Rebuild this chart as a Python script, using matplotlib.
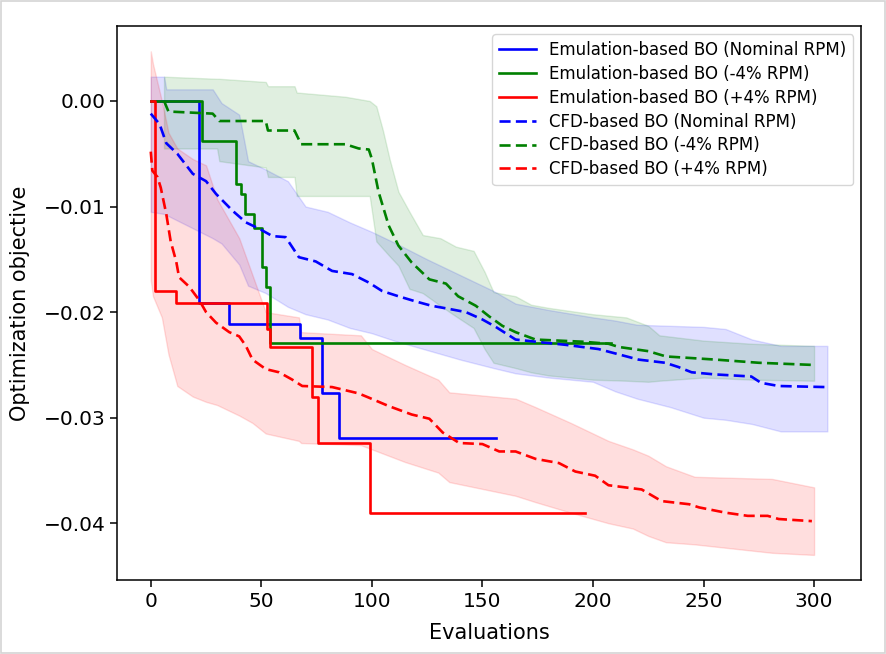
import numpy as np
import matplotlib
matplotlib.use("Agg")
import matplotlib.pyplot as plt

# emulation-based BO (best objective so far, step curves)
emu_nom_x = [0, 22, 35.5, 67.7, 77.5, 85, 156]
emu_nom_y = [0.0, -0.0191, -0.0211, -0.0225, -0.0277, -0.0319, -0.0319]

emu_m4_x = [0, 23.3, 38.4, 40.6, 42.8, 46.8, 50.4, 52, 54, 208]
emu_m4_y = [0.0, -0.0038, -0.0079, -0.0088, -0.0107, -0.0120, -0.0157, -0.0176, -0.0229, -0.0229]

emu_p4_x = [0, 2, 11.5, 52.6, 54, 73, 75.6, 99.3, 196.4]
emu_p4_y = [0.0, -0.0180, -0.0191, -0.0216, -0.0233, -0.0280, -0.0324, -0.0390, -0.0390]

# CFD-based BO mean curves
cfd_nom_x = [0, 4, 7, 12, 19, 25, 29.5, 37, 43, 49, 55, 61, 67, 74.6, 82, 91, 98.6, 104.6,
             112, 120, 127, 135, 142.5, 150, 156, 165, 174, 187.6, 202.5, 211.6, 220.6,
             232.7, 238.6, 244.6, 255, 271.6, 276, 284, 305]
cfd_nom_y = [-0.0012, -0.0022, -0.0040, -0.0050, -0.0069, -0.0076, -0.0088, -0.0104, -0.0115,
             -0.0121, -0.0128, -0.0129, -0.0148, -0.0152, -0.0161, -0.0164, -0.0172, -0.0180,
             -0.0185, -0.0190, -0.0194, -0.0197, -0.0200, -0.0207, -0.0214, -0.0226, -0.0228,
             -0.0231, -0.0235, -0.0240, -0.0245, -0.0248, -0.0252, -0.0257, -0.0259, -0.0261,
             -0.0267, -0.0270, -0.0271]

cfd_m4_x = [6, 8, 28, 31, 52, 53, 65, 68, 88, 94, 98.6, 100, 103, 107.6, 112, 118, 126, 133.5,
            139, 147, 153, 159, 165, 174, 195, 207, 211.6, 225, 233, 255.5, 275, 299]
cfd_m4_y = [0.0, -0.0010, -0.0012, -0.0019, -0.0019, -0.0028, -0.0028, -0.0041, -0.0041, -0.0045,
            -0.0046, -0.0055, -0.0086, -0.0118, -0.0137, -0.0153, -0.0169, -0.0173, -0.0185,
            -0.0194, -0.0204, -0.0213, -0.0219, -0.0226, -0.0228, -0.0230, -0.0233, -0.0237,
            -0.0242, -0.0245, -0.0248, -0.0250]

cfd_p4_x = [0, 0.7, 3, 4.5, 7, 9, 11.5, 12.8, 17.4, 22, 25, 29.5, 35.5, 40, 43, 46, 52, 58, 64,
            68.5, 82, 94, 98.6, 107.6, 118, 126, 132, 139.5, 150, 157.6, 165, 174, 184.6, 192,
            201, 207, 222, 231, 243.5, 248, 260, 270, 279, 284, 299]
cfd_p4_y = [-0.0048, -0.0066, -0.0072, -0.0082, -0.0107, -0.0133, -0.0152, -0.0167, -0.0176,
            -0.0189, -0.0200, -0.0210, -0.0219, -0.0223, -0.0232, -0.0245, -0.0254, -0.0257,
            -0.0264, -0.0270, -0.0271, -0.0277, -0.0281, -0.0289, -0.0297, -0.0301, -0.0314,
            -0.0324, -0.0325, -0.0332, -0.0332, -0.0339, -0.0343, -0.0351, -0.0355, -0.0364,
            -0.0368, -0.0379, -0.0382, -0.0385, -0.0390, -0.0393, -0.0393, -0.0396, -0.0398]

# CFD-based BO spread bands
band_nom_x = [0, 6, 7, 28, 32, 40, 44, 52, 62, 70, 80, 90, 100, 110, 125, 140, 155, 165, 180,
              200, 210, 220, 235, 250, 260, 272, 285, 306]
band_nom_hi = [0.0023, 0.0023, 0.0011, 0.0011, -0.0002, -0.0013, -0.0057, -0.0065, -0.0076,
               -0.0100, -0.0105, -0.0115, -0.0124, -0.0134, -0.0150, -0.0165, -0.0180, -0.0192,
               -0.0198, -0.0205, -0.0208, -0.0212, -0.0213, -0.0214, -0.0216, -0.0226, -0.0232,
               -0.0232]
band_nom_lo = [-0.0105, -0.0107, -0.0108, -0.0130, -0.0135, -0.0155, -0.0175, -0.0182, -0.0195,
               -0.0202, -0.0207, -0.0215, -0.0220, -0.0227, -0.0236, -0.0245, -0.0253, -0.0258,
               -0.0262, -0.0266, -0.0275, -0.0282, -0.0290, -0.0300, -0.0302, -0.0306, -0.0313,
               -0.0313]

band_m4_x = [6, 30, 31, 52, 53, 65, 66, 88, 99, 102, 105, 108, 112, 117, 123, 131, 138, 146, 151,
             155, 165, 172, 180, 200, 215, 225, 230, 250, 272, 300]
band_m4_hi = [0.0023, 0.0021, 0.0021, 0.0018, 0.0014, 0.0014, 0.0008, 0.0004, 0.0, -0.0005,
              -0.0028, -0.0055, -0.0086, -0.0105, -0.0127, -0.0130, -0.0138, -0.0142, -0.0162,
              -0.0181, -0.0185, -0.0193, -0.0196, -0.0202, -0.0205, -0.0213, -0.0222, -0.0227,
              -0.0230, -0.0232]
band_m4_lo = [-0.0045, -0.0045, -0.0057, -0.0063, -0.0072, -0.0072, -0.0090, -0.0090, -0.0090,
              -0.0133, -0.0140, -0.0147, -0.0156, -0.0178, -0.0182, -0.0194, -0.0204, -0.0215,
              -0.0235, -0.0248, -0.0253, -0.0257, -0.0260, -0.0264, -0.0265, -0.0266, -0.0265,
              -0.0262, -0.0264, -0.0265]

band_p4_x = [0, 1, 5, 8, 12, 19, 25, 30, 40, 46, 52, 67, 68, 95, 100, 115, 130, 135, 165, 174,
             190, 207, 218, 225, 233, 246, 281, 300]
band_p4_hi = [0.0047, 0.0035, 0.0, -0.0030, -0.0045, -0.0055, -0.0061, -0.0093, -0.0130, -0.0165,
              -0.0200, -0.0205, -0.0219, -0.0222, -0.0235, -0.0250, -0.0264, -0.0276, -0.0282,
              -0.0290, -0.0305, -0.0322, -0.0330, -0.0336, -0.0346, -0.0356, -0.0358, -0.0366]
band_p4_lo = [-0.0170, -0.0185, -0.0205, -0.0240, -0.0270, -0.0280, -0.0285, -0.0288, -0.0298,
              -0.0305, -0.0315, -0.0322, -0.0324, -0.0326, -0.0330, -0.0342, -0.0352, -0.0361,
              -0.0374, -0.0380, -0.0390, -0.0400, -0.0405, -0.0412, -0.0418, -0.0420, -0.0428,
              -0.0430]

labels = ["Emulation-based BO (Nominal RPM)", "Emulation-based BO (-4% RPM)",
          "Emulation-based BO (+4% RPM)", "CFD-based BO (Nominal RPM)",
          "CFD-based BO (-4% RPM)", "CFD-based BO (+4% RPM)"]

plt.rcParams["font.size"] = 14.5
plt.rcParams["axes.linewidth"] = 1.1
plt.rcParams["xtick.major.size"] = 4.8
plt.rcParams["ytick.major.size"] = 4.8
plt.rcParams["xtick.major.width"] = 1.1
plt.rcParams["ytick.major.width"] = 1.1

fig = plt.figure(figsize=(8.86, 6.54), dpi=100)
ax = fig.add_axes([0.132, 0.113, 0.840, 0.847])

lw = 1.9
dash = (4.2, 2.0)
ax.plot(emu_nom_x, emu_nom_y, color="blue", lw=lw, drawstyle="steps-post", label=labels[0])
ax.plot(emu_m4_x, emu_m4_y, color="green", lw=lw, drawstyle="steps-post", label=labels[1])
ax.plot(emu_p4_x, emu_p4_y, color="red", lw=lw, drawstyle="steps-post", label=labels[2])

ax.plot(cfd_nom_x, cfd_nom_y, "--", dashes=dash, color="blue", lw=lw, label=labels[3])
ax.fill_between(band_nom_x, band_nom_lo, band_nom_hi, color="blue", alpha=0.12)
ax.plot(cfd_m4_x, cfd_m4_y, "--", dashes=dash, color="green", lw=lw, label=labels[4])
ax.fill_between(band_m4_x, band_m4_lo, band_m4_hi, color="green", alpha=0.12)
ax.plot(cfd_p4_x, cfd_p4_y, "--", dashes=dash, color="red", lw=lw, label=labels[5])
ax.fill_between(band_p4_x, band_p4_lo, band_p4_hi, color="red", alpha=0.13)

ax.set_xlabel("Evaluations", fontsize=15, labelpad=9)
ax.set_ylabel("Optimization objective", fontsize=15, labelpad=10)
ax.set_xticks([0, 50, 100, 150, 200, 250, 300])
ax.set_yticks([0.0, -0.01, -0.02, -0.03, -0.04])
ax.legend(loc="upper right", fontsize=12, labelspacing=0.35, handlelength=2.2)

# light screenshot border
fig.patches.append(plt.Rectangle((0.001, 0.001), 0.998, 0.998, transform=fig.transFigure,
                                 fill=False, edgecolor="#d4d4d4", lw=1.2))

fig.savefig("out.png", dpi=100)
